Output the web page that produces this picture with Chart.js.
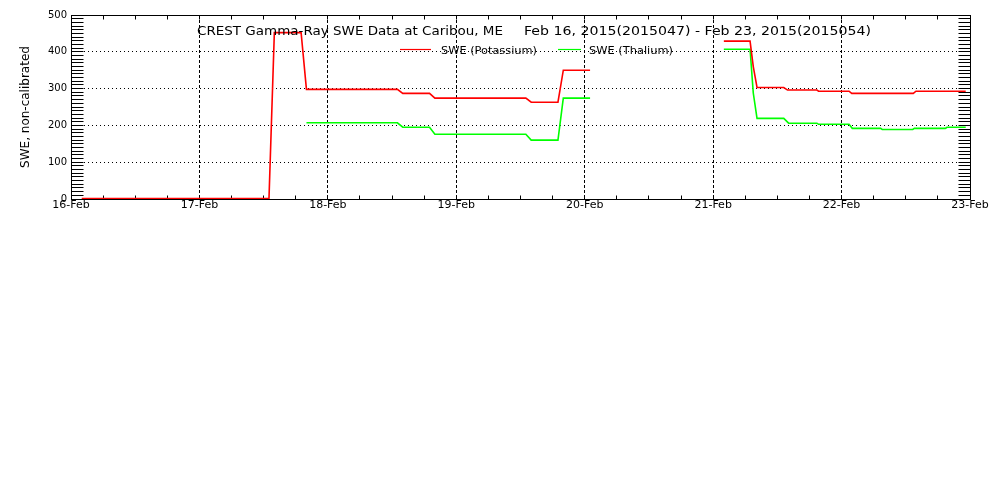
<!DOCTYPE html>
<html><head><meta charset="utf-8">
<script src="https://cdn.jsdelivr.net/npm/chart.js@4.4.0/dist/chart.umd.min.js"></script>
<style>html,body{margin:0;padding:0;background:#fff;}canvas{display:block;}</style>
</head><body>
<canvas id="c" width="1000" height="500"></canvas>
<script>
// ---- data (x in hours after 16-Feb 00:00) ----
const dayLabels = ['16-Feb','17-Feb','18-Feb','19-Feb','20-Feb','21-Feb','22-Feb','23-Feb'];
const titleLeft = 'CREST Gamma-Ray SWE Data at Caribou, ME';
const titleRight = 'Feb 16, 2015(2015047) - Feb 23, 2015(2015054)';
const yTitle = 'SWE, non-calibrated';
const seriesNames = ['SWE (Potassium)', 'SWE (Thalium)'];
const seriesColors = ['#ff0000', '#00ff00'];

const potHours  = [2, 37, 38, 43, 44, 61, 62, 67, 68, 85, 86, 91, 92, 97, 110, 122, 126.9, 127.5, 128.2, 133.2, 133.9, 139.4, 139.7, 145.4, 145.9, 157.4, 157.9, 167.2];
const potValues = [1, 1, 452, 452, 298, 298, 287, 287, 274, 274, 263, 263, 350, 350, null, 429, 429, 360, 303, 303, 296, 296, 293, 293, 287, 287, 293, 293];

const thalHours  = [44, 61, 62, 67, 68, 85, 86, 91, 92, 97, 110, 122, 126.9, 127.5, 128.2, 133.2, 134.1, 139.4, 139.7, 145.4, 146, 151.3, 151.6, 157.3, 157.6, 163.4, 163.7, 167.2];
const thalValues = [207, 207, 195, 195, 176, 176, 160, 160, 274, 274, null, 407, 407, 288, 219, 219, 206, 206, 203, 203, 192, 192, 189, 189, 192, 192, 195, 195];

function pts(h, v) { return h.map((x, i) => ({ x: x, y: v[i] })); }
function al(p) { return Math.round(p - 0.5) + 0.5; }

function fitText(ctx, text, x, base, width, font) {
  ctx.font = font;
  const w = ctx.measureText(text).width;
  ctx.save();
  ctx.translate(x, base);
  ctx.scale(width / w, 1);
  ctx.textAlign = 'left';
  ctx.textBaseline = 'alphabetic';
  ctx.fillText(text, 0, 0);
  ctx.restore();
}

const framePlugin = {
  id: 'frame',
  beforeDraw(chart) {
    const ctx = chart.ctx;
    ctx.save(); ctx.fillStyle = '#fff'; ctx.fillRect(0, 0, chart.width, chart.height); ctx.restore();
  },
  beforeDatasetsDraw(chart) {
    const { ctx, chartArea: a, scales: { x, y } } = chart;
    const L = al(a.left), R = al(a.right), T = al(a.top), B = al(a.bottom);
    ctx.save();
    ctx.strokeStyle = '#000'; ctx.lineWidth = 1; ctx.setLineDash([]);
    ctx.beginPath();
    ctx.rect(L, T, R - L, B - T);
    for (let v = 0; v <= 500; v += 10) {
      const yy = al(y.getPixelForValue(v));
      ctx.moveTo(L, yy); ctx.lineTo(L + 12, yy);
      ctx.moveTo(R, yy); ctx.lineTo(R - 12, yy);
    }
    for (let h = 0; h <= 168; h += 6) {
      const xx = al(x.getPixelForValue(h));
      ctx.moveTo(xx, B); ctx.lineTo(xx, B - 4);
      ctx.moveTo(xx, T); ctx.lineTo(xx, T + 4);
    }
    ctx.stroke();
    ctx.restore();
  },
  afterDatasetsDraw(chart) {
    const ctx = chart.ctx;
    ctx.save();
    ctx.setLineDash([]);
    ctx.globalAlpha = 1;
    ctx.fillStyle = '#000';
    fitText(ctx, titleLeft, 197, 35, 306, '12.5px "DejaVu Sans"');
    fitText(ctx, titleRight, 524, 35, 347, '12.5px "DejaVu Sans"');
    // legend
    ctx.lineWidth = 1.2;
    ctx.strokeStyle = seriesColors[0];
    ctx.beginPath(); ctx.moveTo(400, 49.5); ctx.lineTo(431, 49.5); ctx.stroke();
    ctx.strokeStyle = seriesColors[1];
    ctx.beginPath(); ctx.moveTo(558, 49.5); ctx.lineTo(581, 49.5); ctx.stroke();
    ctx.fillStyle = '#000';
    fitText(ctx, seriesNames[0], 441, 54, 96, '11px "DejaVu Sans"');
    fitText(ctx, seriesNames[1], 589, 54, 84, '11px "DejaVu Sans"');
    ctx.restore();
  }
};

new Chart(document.getElementById('c'), {
  type: 'line',
  data: {
    datasets: [
      { label: seriesNames[0], data: pts(potHours, potValues), borderColor: seriesColors[0], borderWidth: 1.6, pointRadius: 0, tension: 0, spanGaps: false, fill: false },
      { label: seriesNames[1], data: pts(thalHours, thalValues), borderColor: seriesColors[1], borderWidth: 1.6, pointRadius: 0, tension: 0, spanGaps: false, fill: false }
    ]
  },
  options: {
    responsive: false, animation: false, devicePixelRatio: 1,
    layout: { padding: { left: 0, top: 15, right: 30, bottom: 281 } },
    plugins: { legend: { display: false }, title: { display: false }, tooltip: { enabled: false } },
    scales: {
      x: {
        type: 'linear', min: 0, max: 168,
        afterFit(s) { s.height = 20; },
        afterBuildTicks(s) { s.ticks = dayLabels.map((_, i) => ({ value: i * 24 })); },
        ticks: { autoSkip: false, maxRotation: 0, minRotation: 0, padding: 0, color: '#000',
                 font: { family: 'DejaVu Sans', size: 11 },
                 callback: (v) => dayLabels[Math.round(v / 24)] },
        grid: { color: '#000', lineWidth: 1, drawTicks: false },
        border: { display: true, color: '#000', width: 1, dash: [3, 2] }
      },
      y: {
        min: 0, max: 500,
        afterFit(s) { s.width = 71; },
        ticks: { stepSize: 100, padding: 4, color: '#000', font: { family: 'DejaVu Sans', size: 10 } },
        grid: { color: '#000', lineWidth: 1, drawTicks: false },
        border: { display: true, color: '#000', width: 1, dash: [1, 3] },
        title: { display: true, text: yTitle, color: '#000', font: { family: 'DejaVu Sans', size: 12 }, padding: { top: 19, bottom: 0 } }
      }
    }
  },
  plugins: [framePlugin]
});
</script>
</body></html>
